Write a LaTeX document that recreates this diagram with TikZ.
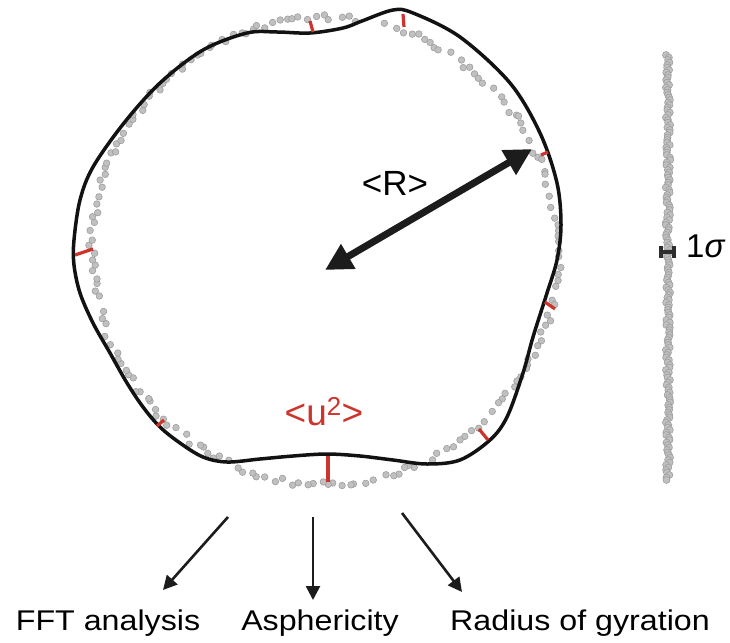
\documentclass[tikz,border=0pt]{standalone}
\usepackage{fontspec}
\setmainfont{Liberation Sans}
\newfontfamily\labelfont[FakeStretch=1.13]{Liberation Sans}
\usetikzlibrary{arrows.meta, positioning}

\definecolor{tickred}{RGB}{204,52,45}
\definecolor{dotfill}{RGB}{192,192,192}
\definecolor{dotedge}{RGB}{158,158,158}
\definecolor{inkdark}{RGB}{28,28,28}
\definecolor{barcol}{RGB}{45,45,45}

\begin{document}
\begin{tikzpicture}[
  x=1pt,
  y=-1pt,
  line cap=round,
  line join=round,
  ringdot/.style={fill=dotfill, draw=dotedge, line width=0.6pt},
  redtick/.style={tickred, line width=3.2pt, line cap=butt},
  contour/.style={black!93, line width=3.5pt},
  radius arrow/.style={
    inkdark, line width=7pt, line cap=butt,
    {Triangle[length=27pt,width=27pt]}-{Triangle[length=27pt,width=27pt]}
  },
  route/.style={
    inkdark, line width=2.6pt, line cap=butt,
    -{Triangle[length=14pt,width=14pt]}
  },
  errbar/.style={barcol, line width=3.6pt, line cap=butt},
  outlabel/.style={
    font=\labelfont\fontsize{28.5}{34}\selectfont,
    anchor=base, inner sep=0pt
  }
]
  \useasboundingbox (0,0) rectangle (730,642);

  % Sampled points round the ring
  \pgfmathsetseed{7}
  \begin{scope}[shift={(325,251)}]
    \foreach \k in {0,...,209} {
      \pgfmathsetmacro\ang{\k*(360/210) + 0.8*rand}
      \pgfmathsetmacro\rad{233 + 3.5*rand}
      \pgfmathtruncatemacro\keep{rnd*10}
      \ifnum\keep>0
        \filldraw[ringdot] (\ang:\rad) circle (3.3pt);
      \fi
    }
  \end{scope}

  % Fitted contour
  \draw[contour] plot[smooth cycle, tension=0.55] coordinates {
    (203,50) (247,33) (277,32) (310,33) (343,28) (362,21)
    (393,10) (413,13) (460,37) (510,83) (540,133) (557,183)
    (561,225) (557,260) (547,293) (533,337) (523,373) (507,417)
    (490,440) (460,460) (427,464) (393,460) (360,456) (327,454)
    (293,456) (260,459) (227,462) (203,457) (180,443) (160,427)
    (143,407) (127,383) (110,353) (93,323) (80,293) (74,265)
    (74,240) (80,200) (93,167) (124,123) (160,83)
  };

  % Local displacements
  \foreach \xa/\ya/\xb/\yb in {
    310/21/313/32, 403/14/404/27, 541/155/548/152,
    75/255/93/249, 545/302/555/309, 157/426/164/420,
    479/429/488/440, 328/456/328/482
  } {
    \draw[redtick] (\xa,\ya) -- (\xb,\yb);
  }

  % Mean radius
  \coordinate (hub) at (325,270);
  \coordinate (rim) at (532,149);
  \draw[radius arrow] (hub) -- (rim);
  \node[anchor=base, inner sep=0pt, font=\fontsize{35}{40}\selectfont]
    (rlabel) at (395,195) {<R>};
  \node[anchor=base, inner sep=0pt, text=tickred,
    font=\fontsize{37}{42}\selectfont]
    (ulabel) at (324,425) {<u\textsuperscript{2}>};

  % Unrolled profile
  \pgfmathsetseed{3}
  \foreach \k in {0,...,170} {
    \pgfmathsetmacro\xx{668 + 2.2*rand}
    \filldraw[ringdot] (\xx,{55 + \k*2.5}) circle (3.5pt);
  }
  \draw[errbar]
    (661,246) -- (661,258)
    (661,252) -- (674,252)
    (674,246) -- (674,258);
  \node[anchor=base west, inner sep=0pt, font=\fontsize{33}{38}\selectfont]
    (sigma) at (686,257) {1\textit{σ}};

  % Derived quantities
  \node[outlabel] (fft) at (108,630) {FFT analysis};
  \node[outlabel] (asph) at (320,630) {Asphericity};
  \node[outlabel] (rgyr) at (580,630) {Radius of gyration};
  \coordinate (fft from) at (228,517);
  \coordinate (fft to) at (163,590);
  \coordinate (asph from) at (313,517);
  \coordinate (asph to) at (313,600);
  \coordinate (rgyr from) at (402,513);
  \coordinate (rgyr to) at (462,592);
  \draw[route] (fft from) -- (fft to);
  \draw[route] (asph from) -- (asph to);
  \draw[route] (rgyr from) -- (rgyr to);
\end{tikzpicture}
\end{document}
